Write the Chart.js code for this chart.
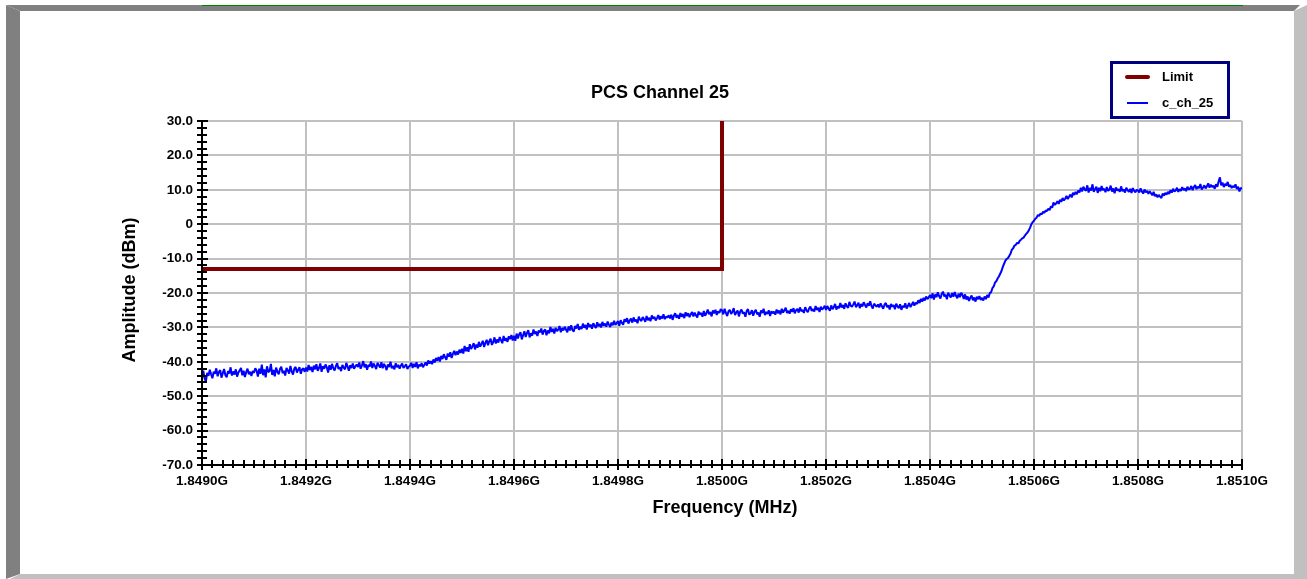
<!DOCTYPE html>
<html>
<head>
<meta charset="utf-8">
<script src="https://cdn.jsdelivr.net/npm/chart.js@4/dist/chart.umd.min.js"></script>
<style>
html,body{margin:0;padding:0;background:#fff;}
#wrap{width:1307px;height:579px;position:relative;}
</style>
</head>
<body>
<div id="wrap"><canvas id="c" width="1307" height="579"></canvas></div>
<script>
// ---- data ----
const chartTitle = 'PCS Channel 25';
const xTitle = 'Frequency (MHz)';
const yTitle = 'Amplitude (dBm)';
const seriesNames = ['Limit', 'c_ch_25'];

// sweep grid (MHz)
const sweepStartMHz = 1849.0;
const sweepStepMHz = 0.0025;

// measured trace c_ch_25 (dBm), one value per sweep point
const traceAmp = [
 -43.8,-42.6,-44.9,-45.7,-43.2,-44.1,-42.3,-43.6,-44.8,-42.9,-43.5,-41.9,-44.2,-43.0,-42.4,-44.6,-43.3,-42.1,-43.9,-44.5,
 -42.7,-43.4,-41.6,-44.0,-42.8,-43.7,-42.2,-44.3,-43.1,-42.5,-41.8,-43.9,-42.6,-44.4,-43.0,-42.0,-43.6,-42.9,-44.1,-42.7,
 -43.2,-41.9,-42.6,-44.3,-42.0,-43.5,-40.8,-43.9,-42.2,-44.5,-41.3,-43.0,-42.7,-40.6,-43.8,-42.4,-44.2,-41.7,-42.9,-43.6,
 -42.1,-41.4,-43.3,-42.6,-44.0,-41.8,-42.5,-43.4,-41.2,-42.8,-43.7,-42.0,-41.5,-43.1,-42.3,-41.6,-43.5,-42.2,-41.9,-42.9,
 -41.7,-42.8,-40.9,-42.4,-41.5,-43.0,-41.1,-42.2,-40.7,-42.6,-41.8,-40.5,-42.9,-41.3,-42.0,-40.8,-41.6,-43.1,-41.0,-42.3,
 -40.6,-41.9,-42.5,-41.2,-40.4,-42.1,-41.5,-42.7,-40.9,-41.7,-42.2,-40.3,-41.4,-42.6,-41.0,-41.8,-40.5,-42.0,-41.3,-40.8,
 -41.5,-40.2,-42.0,-41.1,-39.8,-41.6,-40.7,-42.3,-40.9,-41.4,-39.9,-41.8,-40.5,-41.2,-42.1,-40.3,-41.0,-41.7,-40.1,-41.9,
 -40.6,-41.3,-42.4,-40.8,-41.5,-40.0,-41.9,-41.2,-42.2,-40.4,-41.6,-40.9,-42.0,-41.1,-40.5,-41.8,-41.3,-40.7,-42.1,-41.4,
 -41.2,-40.3,-41.8,-40.6,-41.5,-40.1,-41.9,-40.8,-41.3,-40.4,-41.6,-40.9,-40.2,-41.1,-39.6,-40.5,-39.8,-40.7,-39.3,-40.2,
 -38.9,-39.7,-38.6,-39.9,-38.3,-39.2,-37.8,-38.7,-39.4,-37.6,-38.5,-37.2,-38.9,-37.7,-36.8,-38.1,-37.0,-37.9,-36.5,-37.4,
 -36.2,-37.6,-35.4,-36.9,-35.8,-37.1,-34.9,-36.3,-35.5,-34.6,-36.4,-35.0,-35.9,-34.2,-35.6,-34.8,-33.9,-35.7,-34.5,-33.6,
 -35.2,-34.0,-33.3,-35.1,-34.3,-32.9,-34.7,-33.5,-34.4,-32.8,-33.7,-34.6,-32.5,-33.9,-33.1,-34.2,-32.6,-33.4,-32.2,-33.8,
 -32.4,-33.9,-31.8,-33.2,-32.0,-31.4,-33.5,-32.3,-31.1,-32.8,-31.6,-30.8,-32.9,-31.7,-32.4,-30.6,-31.9,-31.2,-32.5,-30.9,
 -31.5,-30.3,-32.1,-31.0,-30.6,-32.3,-30.9,-31.7,-29.9,-31.3,-30.4,-31.8,-30.1,-31.1,-30.7,-29.6,-31.4,-30.2,-30.9,-29.8,
 -30.6,-31.4,-29.7,-30.9,-29.4,-30.8,-31.2,-29.6,-30.3,-29.0,-30.7,-29.8,-30.5,-28.9,-30.1,-29.3,-30.6,-28.7,-29.9,-29.2,
 -30.4,-28.8,-29.6,-30.2,-28.5,-29.7,-29.0,-30.0,-28.4,-29.5,-28.9,-29.8,-28.3,-29.2,-29.9,-28.6,-29.4,-28.1,-29.3,-28.7,
 -28.2,-29.5,-27.9,-28.7,-29.2,-27.6,-28.4,-27.3,-28.9,-28.0,-27.4,-28.6,-27.1,-28.3,-27.7,-28.8,-26.9,-27.8,-28.1,-27.0,
 -27.6,-28.4,-26.7,-27.9,-27.2,-28.2,-26.5,-27.5,-26.9,-28.0,-27.3,-26.4,-27.7,-26.8,-27.4,-26.2,-27.6,-26.9,-27.1,-26.5,
 -27.4,-26.3,-27.8,-26.6,-25.9,-27.2,-26.4,-27.5,-25.8,-26.9,-26.1,-27.3,-25.6,-26.7,-25.9,-27.0,-26.2,-25.5,-26.8,-25.7,
 -26.5,-27.1,-25.4,-26.3,-25.8,-26.9,-25.2,-26.6,-25.9,-24.8,-26.2,-25.5,-26.8,-25.1,-25.9,-24.9,-26.4,-25.3,-25.8,-24.7,
 -25.0,-26.2,-24.6,-25.8,-26.7,-25.3,-24.9,-26.1,-25.5,-24.4,-26.4,-25.7,-25.1,-26.8,-25.4,-24.8,-26.0,-25.6,-26.9,-25.2,
 -24.7,-26.3,-25.9,-25.0,-26.6,-25.4,-24.9,-26.2,-25.7,-26.9,-25.1,-25.8,-24.6,-26.4,-25.5,-26.1,-25.0,-26.7,-25.3,-25.9,
 -25.4,-26.3,-24.8,-25.9,-25.1,-26.2,-24.6,-25.7,-25.0,-24.3,-25.8,-25.2,-26.0,-24.7,-25.5,-24.4,-25.9,-25.0,-24.6,-25.7,
 -24.2,-25.3,-24.9,-25.8,-24.1,-25.0,-25.6,-24.5,-23.9,-25.2,-24.7,-25.4,-23.8,-24.9,-24.3,-25.5,-24.0,-24.8,-24.4,-23.7,
 -24.9,-23.8,-24.5,-25.2,-23.6,-24.7,-24.1,-23.2,-24.8,-23.9,-24.4,-22.9,-24.2,-23.5,-24.6,-23.0,-23.8,-24.3,-22.6,-23.7,
 -24.0,-23.3,-22.5,-24.1,-23.6,-22.8,-24.4,-23.2,-23.9,-22.7,-23.5,-24.2,-23.0,-23.7,-22.4,-23.8,-24.5,-23.1,-23.6,-24.0,
 -23.3,-24.2,-23.0,-23.8,-24.6,-23.4,-22.9,-24.1,-23.6,-24.8,-23.2,-24.0,-23.5,-24.7,-23.1,-23.9,-24.4,-23.3,-24.9,-23.7,
 -24.2,-23.0,-24.5,-23.8,-22.9,-24.1,-23.4,-22.6,-23.7,-22.8,-23.2,-22.1,-22.9,-21.7,-22.5,-21.4,-22.2,-21.0,-21.8,-21.3,
 -20.6,-21.5,-20.1,-21.9,-20.4,-21.2,-19.8,-20.9,-21.6,-20.3,-19.6,-21.0,-20.5,-21.8,-19.9,-20.7,-21.3,-20.0,-21.1,-19.7,
 -20.8,-21.5,-20.2,-21.2,-19.9,-20.6,-21.7,-20.4,-21.9,-21.0,-22.3,-21.4,-20.7,-22.1,-21.3,-22.5,-21.1,-21.8,-20.9,-22.0,
 -21.4,-22.2,-21.0,-21.8,-20.6,-21.3,-20.0,-19.8,-18.6,-18.1,-17.0,-16.6,-15.8,-15.2,-14.4,-13.6,-12.4,-11.5,-10.6,-10.1,
 -9.8,-9.2,-8.5,-7.4,-7.0,-6.2,-6.0,-5.4,-5.6,-4.8,-4.5,-4.1,-3.9,-3.3,-2.8,-2.4,-1.8,-1.0,0.0,0.6,
 1.0,1.6,1.9,2.7,2.4,3.1,2.9,3.6,3.3,4.0,3.8,4.5,4.1,5.2,4.8,6.3,5.6,6.0,6.7,5.9,
 7.1,6.5,7.6,6.9,7.4,8.2,7.3,8.0,8.6,7.8,9.1,8.5,9.4,8.7,9.8,9.2,10.6,9.5,10.9,10.1,
 9.7,11.3,9.2,10.5,9.8,11.6,9.4,10.2,10.9,9.1,10.6,9.6,11.1,9.9,10.3,9.3,10.8,9.7,10.1,11.2,
 9.5,10.4,9.0,10.7,9.8,10.2,9.4,11.0,9.6,10.1,9.2,10.6,9.9,9.4,10.3,9.1,10.5,9.7,9.3,10.0,
 9.8,9.2,10.4,9.5,8.9,10.1,9.3,9.7,8.8,9.6,9.0,8.4,9.4,8.1,8.7,7.8,8.5,8.0,7.6,8.9,
 8.3,9.1,8.6,9.4,8.8,9.9,9.2,10.3,9.5,9.8,10.6,9.4,10.2,9.7,10.8,9.9,10.4,9.6,10.9,10.1,
 10.3,11.1,9.9,10.8,11.4,10.2,10.9,10.5,11.7,10.1,10.6,11.3,10.4,11.0,11.9,10.6,11.5,10.8,11.2,10.3,
 11.6,10.9,12.4,13.6,11.3,12.1,10.8,11.7,11.2,12.3,10.9,11.4,10.5,11.1,10.7,11.6,10.2,10.9,9.5,10.6,
 10.2
];

// limit mask (MHz, dBm)
const limitFreq = [1849.0, 1850.0, 1850.0];
const limitAmp = [-13.0, -13.0, 30.0];

// axes
const xMin = 1849.0, xMax = 1851.0, xStep = 0.2, xMinorStep = 0.02;
const yMin = -70, yMax = 30, yStep = 10, yMinorStep = 2;

// ---- build ----
const tracePts = traceAmp.map((v, i) => ({x: sweepStartMHz + i * sweepStepMHz, y: v}));
const limitPts = limitFreq.map((f, i) => ({x: f, y: limitAmp[i]}));

const FONT = '"Liberation Sans", Arial, sans-serif';

const framePlugin = {
  id: 'frame',
  beforeDraw(chart) {
    const ctx = chart.ctx;
    ctx.save();
    ctx.fillStyle = '#ffffff';
    ctx.fillRect(0, 0, chart.width, chart.height);
    ctx.fillStyle = '#808080';
    ctx.beginPath();
    ctx.moveTo(6, 5); ctx.lineTo(1300, 5); ctx.lineTo(1294, 11); ctx.lineTo(20, 11); ctx.closePath(); ctx.fill();
    ctx.beginPath();
    ctx.moveTo(6, 5); ctx.lineTo(20, 11); ctx.lineTo(20, 574); ctx.lineTo(6, 579); ctx.closePath(); ctx.fill();
    ctx.fillStyle = '#c0c0c0';
    ctx.beginPath();
    ctx.moveTo(1307, 5); ctx.lineTo(1307, 579); ctx.lineTo(1294, 579); ctx.lineTo(1294, 11); ctx.closePath(); ctx.fill();
    ctx.beginPath();
    ctx.moveTo(20, 574); ctx.lineTo(1307, 574); ctx.lineTo(1307, 579); ctx.lineTo(10, 579); ctx.closePath(); ctx.fill();
    ctx.fillStyle = '#008000';
    ctx.fillRect(202, 5, 1041, 1);
    ctx.restore();
  },
  afterDraw(chart) {
    const ctx = chart.ctx;
    const xs = chart.scales.x, ys = chart.scales.y;
    const ca = chart.chartArea;
    ctx.save();
    ctx.strokeStyle = '#000';
    ctx.lineWidth = 2;
    ctx.beginPath();
    ctx.moveTo(ca.left, ca.top - 1); ctx.lineTo(ca.left, ca.bottom + 1);
    ctx.moveTo(ca.left - 1, ca.bottom); ctx.lineTo(ca.right + 1, ca.bottom);
    ctx.stroke();
    ctx.beginPath();
    for (let v = yMin; v <= yMax + 1e-9; v += yMinorStep) {
      const py = Math.round(ys.getPixelForValue(v));
      const major = Math.abs(v % yStep) < 1e-9;
      ctx.moveTo(ca.left - 5, py); ctx.lineTo(ca.left + (major ? 6 : 5), py);
    }
    const n = Math.round((xMax - xMin) / xMinorStep);
    for (let k = 0; k <= n; k++) {
      const v = xMin + k * xMinorStep;
      const px = Math.round(xs.getPixelForValue(v));
      const major = k % 10 === 0;
      ctx.moveTo(px, ca.bottom - (major ? 6 : 5)); ctx.lineTo(px, ca.bottom + (major ? 5 : 3));
    }
    ctx.stroke();

    ctx.fillStyle = '#000';
    ctx.font = 'bold 18px ' + FONT;
    ctx.textAlign = 'center';
    ctx.textBaseline = 'middle';
    ctx.fillText(chartTitle, 660, 93);
    ctx.fillText(xTitle, 725, 508);
    ctx.save();
    ctx.translate(130, 290);
    ctx.rotate(-Math.PI / 2);
    ctx.fillText(yTitle, 0, 0);
    ctx.restore();

    const ds = chart.data.datasets;
    ctx.strokeStyle = '#000080';
    ctx.lineWidth = 3;
    ctx.strokeRect(1111.5, 62.5, 117, 55);
    ctx.font = 'bold 13px ' + FONT;
    ctx.textAlign = 'left';
    const rows = [77, 103];
    ds.forEach((d, i) => {
      ctx.strokeStyle = d.borderColor;
      ctx.lineWidth = i === 0 ? 4 : 2;
      ctx.lineCap = i === 0 ? 'round' : 'butt';
      ctx.beginPath(); ctx.moveTo(1127, rows[i]); ctx.lineTo(1148, rows[i]); ctx.stroke();
      ctx.fillStyle = '#000';
      ctx.fillText(d.label, 1162, rows[i]);
    });
    ctx.restore();
  }
};

new Chart(document.getElementById('c'), {
  type: 'line',
  data: {
    datasets: [
      {label: seriesNames[0], data: limitPts, borderColor: '#800000', borderWidth: 4, pointRadius: 0, tension: 0, fill: false, order: 1},
      {label: seriesNames[1], data: tracePts, borderColor: '#0000ff', borderWidth: 2, pointRadius: 0, tension: 0, fill: false, order: 2, borderJoinStyle: 'bevel'}
    ]
  },
  options: {
    responsive: false,
    animation: false,
    events: [],
    layout: {padding: {left: 102, right: 65, top: 121, bottom: 54}},
    plugins: {legend: {display: false}, title: {display: false}, tooltip: {enabled: false}},
    scales: {
      x: {
        type: 'linear', min: xMin, max: xMax,
        border: {display: false},
        grid: {color: '#c0c0c0', lineWidth: 2, drawTicks: false},
        ticks: {
          stepSize: xStep, padding: 8, color: '#000', maxRotation: 0, autoSkip: false,
          font: {family: FONT, size: 13.5, weight: 'bold'},
          callback: v => (v / 1000).toFixed(4) + 'G'
        },
        afterFit: s => { s.height = 60; }
      },
      y: {
        type: 'linear', min: yMin, max: yMax,
        border: {display: false},
        grid: {color: '#c0c0c0', lineWidth: 2, drawTicks: false},
        ticks: {
          stepSize: yStep, padding: 9, color: '#000',
          font: {family: FONT, size: 13.5, weight: 'bold'},
          callback: v => v === 0 ? '0' : v.toFixed(1)
        },
        afterFit: s => { s.width = 100; }
      }
    }
  },
  plugins: [framePlugin]
});
</script>
</body>
</html>
